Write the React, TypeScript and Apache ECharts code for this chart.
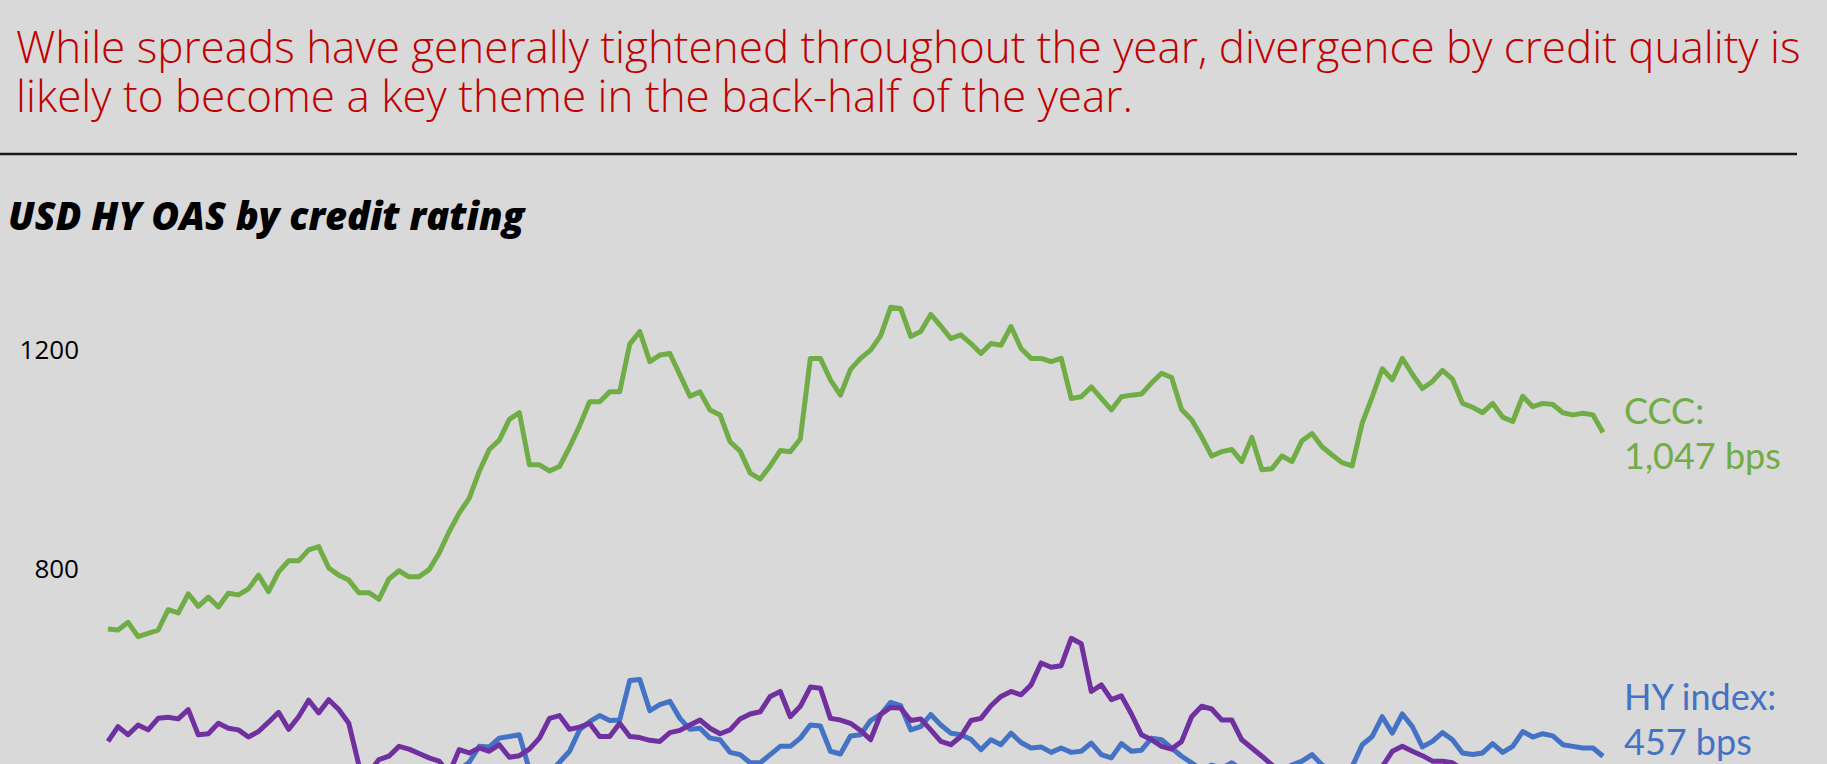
import React, { useEffect, useRef } from 'react';
import * as echarts from 'echarts';

const titleLines = [
  'While spreads have generally tightened throughout the year, divergence by credit quality is',
  'likely to become a key theme in the back-half of the year.',
];
const subtitle = 'USD HY OAS by credit rating';

const periods: string[] = Array.from({ length: 150 }, (_, i) => `W${i + 1}`);

const ccc = [
  689, 687, 701, 675, 681, 687, 724, 718, 753, 730,
  747, 729, 754, 751, 762, 787, 757, 793, 813, 813,
  833, 839, 800, 787, 778, 755, 755, 743, 780, 795,
  784, 784, 797, 827, 866, 900, 927, 976, 1016, 1033,
  1071, 1083, 988, 988, 977, 985, 1020, 1059, 1103, 1103,
  1121, 1121, 1208, 1231, 1176, 1188, 1191, 1152, 1113, 1121,
  1088, 1079, 1030, 1013, 973, 962, 986, 1014, 1012, 1035,
  1182, 1182, 1143, 1115, 1162, 1182, 1197, 1223, 1275, 1273,
  1222, 1231, 1262, 1241, 1218, 1225, 1209, 1191, 1209, 1206,
  1240, 1200, 1182, 1182, 1176, 1182, 1109, 1112, 1130, 1109,
  1088, 1112, 1115, 1117, 1137, 1155, 1147, 1089, 1070, 1039,
  1004, 1012, 1016, 994, 1038, 979, 981, 1004, 994, 1032,
  1045, 1021, 1006, 992, 986, 1064, 1112, 1163, 1143, 1182,
  1153, 1127, 1140, 1160, 1144, 1100, 1093, 1083, 1100, 1075,
  1067, 1113, 1094, 1100, 1098, 1083, 1079, 1082, 1079, 1047,
];

const single_b = [
  484, 511, 496, 514, 505, 526, 528, 525, 542, 496,
  498, 517, 508, 505, 492, 502, 519, 537, 506, 529,
  559, 536, 560, 542, 517, 441, 426, 451, 457, 475,
  470, 462, 454, 448, 426, 469, 463, 472, 466, 478,
  455, 458, 470, 490, 526, 531, 506, 510, 517, 493,
  493, 517, 493, 491, 486, 484, 500, 504, 514, 523,
  508, 498, 505, 525, 534, 538, 566, 575, 529, 548,
  583, 581, 526, 523, 517, 504, 487, 533, 546, 545,
  522, 525, 505, 484, 478, 493, 522, 526, 549, 566,
  575, 569, 587, 627, 619, 622, 672, 662, 575, 587,
  560, 567, 534, 496, 487, 475, 470, 484, 529, 548,
  543, 523, 523, 487, 472, 457, 441, 429, 420, 414,
  414, 411, 414, 411, 414, 417, 426, 438, 466, 475,
  466, 458, 448, 448, 445, 432, 428, 425, 422, 420,
  418, 420, 423, 420, 418, 415, 417, 414, 412, 410,
];

const hyIndex = [
  405, 408, 410, 406, 402, 404, 410, 414, 412, 410,
  408, 412, 416, 420, 418, 415, 412, 410, 414, 418,
  422, 425, 420, 418, 412, 395, 385, 392, 400, 405,
  410, 412, 415, 420, 428, 432, 446, 475, 474, 490,
  493, 496, 432, 420, 426, 446, 466, 505, 520, 531,
  522, 523, 595, 597, 540, 551, 557, 526, 506, 508,
  490, 487, 464, 460, 445, 445, 460, 475, 475, 490,
  514, 512, 466, 461, 494, 496, 522, 533, 555, 549,
  505, 511, 533, 514, 499, 496, 488, 469, 487, 478,
  499, 482, 472, 474, 464, 472, 464, 466, 481, 460,
  454, 480, 466, 468, 490, 487, 472, 457, 445, 432,
  441, 435, 445, 432, 426, 423, 426, 432, 441, 448,
  460, 441, 432, 432, 438, 478, 493, 529, 499, 534,
  511, 474, 484, 500, 487, 463, 460, 463, 480, 464,
  475, 502, 492, 498, 494, 478, 475, 472, 472, 457,
];

// y-axis values whose labels are visible in the (cropped) reference
const visibleTickMin = 800;

const GREEN = '#70AD47';
const BLUE = '#4472C4';
const PURPLE = '#7030A0';

export default function App() {
  const ref = useRef<HTMLDivElement>(null);
  useEffect(() => {
    if (!ref.current) return;
    const chart = echarts.init(ref.current, null, { renderer: 'svg' });
    const fmt = (n: number) => n.toLocaleString('en-US');
    chart.setOption({
      animation: false,
      backgroundColor: '#D9D9D9',
      title: {
        text: titleLines.join('\n'),
        left: 11,
        top: 16,
        textStyle: {
          color: '#C00000',
          fontFamily: 'Open Sans',
          fontWeight: 300,
          fontSize: 44,
          lineHeight: 49,
        },
      },
      graphic: [
        {
          type: 'line',
          shape: { x1: 0, y1: 154, x2: 1797, y2: 154 },
          style: { stroke: '#1a1a1a', lineWidth: 2.5 },
        },
        {
          type: 'text',
          left: 8,
          top: 196,
          style: {
            text: subtitle,
            fill: '#000',
            fontFamily: 'Open Sans',
            fontWeight: 800,
            fontStyle: 'italic',
            fontSize: 38,
          },
        },
      ],
      grid: { left: 108, right: 224, top: 129, bottom: 93, containLabel: false },
      xAxis: {
        type: 'category',
        data: periods,
        boundaryGap: false,
        show: false,
      },
      yAxis: {
        type: 'value',
        min: 0,
        max: 1600,
        interval: 400,
        axisLine: { show: false },
        axisTick: { show: false },
        splitLine: { show: false },
        axisLabel: {
          showMaxLabel: false,
          color: '#000',
          fontFamily: 'Open Sans',
          fontSize: 26,
          margin: 29,
          formatter: (v: number) => (v >= visibleTickMin ? String(v) : ''),
        },
      },
      series: [
        {
          name: 'HY index',
          type: 'line',
          data: hyIndex,
          showSymbol: false,
          symbol: 'none',
          lineStyle: { color: BLUE, width: 5, join: 'round' },
          itemStyle: { color: BLUE },
          emphasis: { disabled: true },
          endLabel: {
            show: true,
            formatter: (p: any) => `HY index:\n${fmt(p.value)} bps`,
            color: BLUE,
            fontFamily: 'Lato',
            fontSize: 36,
            lineHeight: 45,
            distance: 21,
            offset: [0, -38],
          },
        },
        {
          name: 'B',
          type: 'line',
          data: single_b,
          showSymbol: false,
          symbol: 'none',
          lineStyle: { color: PURPLE, width: 5, join: 'round' },
          itemStyle: { color: PURPLE },
          emphasis: { disabled: true },
        },
        {
          name: 'CCC',
          type: 'line',
          data: ccc,
          showSymbol: false,
          symbol: 'none',
          lineStyle: { color: GREEN, width: 5, join: 'round' },
          itemStyle: { color: GREEN },
          emphasis: { disabled: true },
          endLabel: {
            show: true,
            formatter: (p: any) => `CCC:\n${fmt(p.value)} bps`,
            color: GREEN,
            fontFamily: 'Lato',
            fontSize: 36,
            lineHeight: 45,
            distance: 21,
          },
        },
      ],
    });
    return () => chart.dispose();
  }, []);
  return (
    <div
      style={{
        position: 'absolute',
        left: 0,
        top: 0,
        width: 1827,
        height: 764,
        overflow: 'hidden',
        background: '#D9D9D9',
      }}
    >
      <div ref={ref} style={{ width: 1827, height: 1100 }} />
    </div>
  );
}
